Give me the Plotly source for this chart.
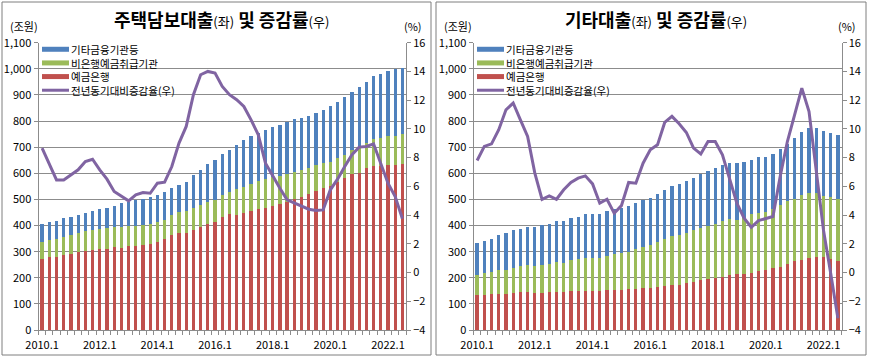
import plotly.graph_objects as go

quarters = [f"{y}.{q}" for y in range(2010, 2023) for q in range(1, 5)][:51]
tick_labels = ["2010.1", "2012.1", "2014.1", "2016.1", "2018.1", "2020.1", "2022.1"]

# 주택담보대출 (조원)
mort_bank = [272,279,279,287,292,299,304,306,310,310,317,314,320,323,327,330,338,348,364,373,371,383,396,407,412,434,443,441,449,455,464,468,476,483,491,501,509,520,533,545,553,566,581,597,600,620,628,628,631,632,635]
mort_nonbank = [66,67,70,70,72,73,75,77,77,80,77,79,77,75,75,75,75,74,75,79,85,83,81,82,85,82,86,100,100,104,106,109,108,105,106,104,103,99,97,94,92,91,90,92,98,96,104,108,110,112,115]
mort_other = [69,67,68,72,68,69,69,74,77,79,82,92,94,98,98,104,104,107,103,104,112,127,136,146,154,156,162,169,180,183,185,189,192,197,200,201,198,202,199,204,213,215,220,222,233,234,239,246,249,257,255]
mort_rate = [8.66,7.61,6.45,6.45,6.80,7.15,7.73,7.89,7.15,6.50,5.64,5.29,4.99,5.41,5.57,5.52,6.22,6.29,7.38,9.01,10.17,12.38,13.77,14.00,13.89,12.96,12.38,12.03,11.56,10.63,9.59,7.61,6.69,5.87,5.06,4.83,4.59,4.41,4.32,4.36,5.76,6.50,7.38,8.20,8.73,8.78,8.96,7.61,6.22,5.29,3.74]

# 기타대출 (조원)
oth_bank = [134,134,137,138,138,142,144,144,142,142,144,144,145,149,149,149,149,151,152,152,154,156,158,160,162,166,168,172,172,179,184,191,196,200,204,210,215,215,219,227,230,236,242,253,265,268,277,279,278,270,265]
oth_nonbank = [76,85,86,92,92,95,101,103,103,107,109,115,113,119,121,125,128,126,131,140,139,142,152,158,162,172,180,188,192,193,199,201,202,207,213,215,208,215,224,222,220,229,238,242,237,248,247,245,236,240,236]
oth_other = [125,122,125,132,141,146,141,147,150,153,153,157,159,161,161,170,167,169,171,170,174,178,176,179,181,182,188,191,195,198,200,205,210,213,214,213,215,215,208,212,211,207,212,219,234,243,249,249,249,245,247]
oth_rate = [7.80,8.78,8.96,9.94,11.33,11.80,10.63,9.47,6.92,5.10,5.34,5.10,5.76,6.27,6.57,6.73,6.17,4.83,5.10,4.13,4.66,6.27,6.22,7.61,8.54,8.89,10.45,10.87,10.36,9.75,8.66,8.26,9.12,9.12,8.20,6.45,4.83,3.78,3.15,3.62,3.74,3.90,6.69,9.12,10.98,12.84,11.21,6.92,2.97,-0.05,-3.19]

names = ["기타금융기관등", "비은행예금취급기관", "예금은행", "전년동기대비증감율(우)"]
C_BLUE, C_GREEN, C_RED, C_PURPLE = "#4F81BD", "#9BBB59", "#C0504D", "#8064A2"

FONT = "Noto Sans CJK KR"
GRID = "#8c8c8c"
xs = list(range(len(quarters)))
tickvals = [quarters.index(t) for t in tick_labels]

W, H = 869, 358
def px(x): return x / W
def py(y): return 1 - y / H

LEG_FS = 10.5
LEG_STEP = 1.3 * LEG_FS
LEG_MID = 69.75

fig = go.Figure()

def add_panel(bank, nonbank, other, rate, xa, ya, ya2, off):
    series = [(other, C_BLUE, names[0]), (nonbank, C_GREEN, names[1]), (bank, C_RED, names[2])]
    for vals, col, nm in reversed(series):
        fig.add_trace(go.Bar(x=xs, y=vals, name=nm, marker=dict(color=col, line=dict(width=0)),
                             xaxis=xa, yaxis=ya, showlegend=False))
    fig.add_trace(go.Scatter(x=xs, y=rate, name=names[3], mode="lines",
                             line=dict(color=C_PURPLE, width=3),
                             xaxis=xa, yaxis=ya2, showlegend=False))
    # compact legend (Excel style): swatches + one multi-line label block
    for i, col in enumerate([C_BLUE, C_GREEN, C_RED, C_PURPLE]):
        yc = LEG_MID + (i - 1.5) * LEG_STEP
        if i < 3:
            fig.add_shape(type="rect", xref="paper", yref="paper",
                          x0=px(42 + off), x1=px(69 + off), y0=py(yc + 2.5), y1=py(yc - 2.5),
                          fillcolor=col, line=dict(width=0))
        else:
            fig.add_shape(type="line", xref="paper", yref="paper",
                          x0=px(42 + off), x1=px(69 + off), y0=py(yc), y1=py(yc),
                          line=dict(color=col, width=3))
    fig.add_annotation(xref="paper", yref="paper", x=px(69 + off), y=py(LEG_MID),
                       text="<br>".join(names), align="left",
                       showarrow=False, xanchor="left", yanchor="middle",
                       font=dict(family=FONT, size=LEG_FS, color="#000"))

add_panel(mort_bank, mort_nonbank, mort_other, mort_rate, "x", "y", "y2", 0)
add_panel(oth_bank, oth_nonbank, oth_other, oth_rate, "x2", "y3", "y4", 435)

ydom = [py(330), py(42.7)]
xdomL = [px(38.5), px(406)]
xdomR = [px(473.5), px(841.5)]

xaxis_common = dict(range=[-0.5, 50.5], tickvals=tickvals, ticktext=tick_labels,
                    ticks="outside", ticklen=5, tickcolor="rgba(0,0,0,0)",
                    showgrid=False, showline=True, linecolor=GRID, linewidth=1, zeroline=False,
                    automargin=False,
                    tickfont=dict(family=FONT, size=11, color="#000"),
                    minor=dict(ticks="outside", ticklen=4, tickcolor=GRID, tick0=0.5, dtick=1, showgrid=False))
yleft_common = dict(range=[0, 1100], dtick=100, tickformat=",", showgrid=True, gridcolor=GRID, gridwidth=1,
                    showline=True, linecolor=GRID, ticks="outside", ticklen=4, tickcolor=GRID,
                    zeroline=False, automargin=False, tickfont=dict(family=FONT, size=11, color="#000"))
yright_common = dict(range=[-4, 16], dtick=2, showgrid=False, showline=True, linecolor=GRID,
                     ticks="outside", ticklen=4, tickcolor=GRID, zeroline=False, side="right",
                     automargin=False, tickfont=dict(family=FONT, size=11, color="#000"))

fig.update_layout(
    width=W, height=H, margin=dict(l=0, r=0, t=0, b=0, autoexpand=False), autosize=False,
    paper_bgcolor="white", plot_bgcolor="white",
    barmode="stack", bargap=0.55,
    font=dict(family=FONT, color="#000"),
    xaxis=dict(domain=xdomL, anchor="y", **xaxis_common),
    yaxis=dict(domain=ydom, anchor="x", **yleft_common),
    yaxis2=dict(overlaying="y", anchor="x", **yright_common),
    xaxis2=dict(domain=xdomR, anchor="y3", **xaxis_common),
    yaxis3=dict(domain=ydom, anchor="x2", **yleft_common),
    yaxis4=dict(overlaying="y3", anchor="x2", **yright_common),
    showlegend=False,
)

# panel frames
for x0, x1 in [(2, 431), (436, 866)]:
    fig.add_shape(type="rect", xref="paper", yref="paper", x0=px(x0), x1=px(x1), y0=py(355), y1=py(2),
                  line=dict(color="#7f7f7f", width=1), fillcolor="rgba(0,0,0,0)", layer="below")

small = "font-size:13px"
titles = [
    (221, f"<b>주택담보대출</b><span style='{small}'>(좌)</span><b> 및 증감률</b><span style='{small}'>(우)</span>"),
    (656, f"<b>기타대출</b><span style='{small}'>(좌)</span><b> 및 증감률</b><span style='{small}'>(우)</span>"),
]
for cx, txt in titles:
    fig.add_annotation(xref="paper", yref="paper", x=px(cx), y=py(19), text=txt, showarrow=False,
                       font=dict(family=FONT, size=18, color="#000"), xanchor="center", yanchor="middle")

for off in [0, 434]:
    fig.add_annotation(xref="paper", yref="paper", x=px(8 + off), y=py(26), text="(조원)", showarrow=False,
                       font=dict(family=FONT, size=11, color="#000"), xanchor="left", yanchor="middle")
    fig.add_annotation(xref="paper", yref="paper", x=px(424 + off), y=py(26), text="(%)", showarrow=False,
                       font=dict(family=FONT, size=11, color="#000"), xanchor="right", yanchor="middle")

fig.write_html("out.html", config={"displayModeBar": False},
               post_script="document.body.style.margin='0';document.body.style.overflow='hidden';")
